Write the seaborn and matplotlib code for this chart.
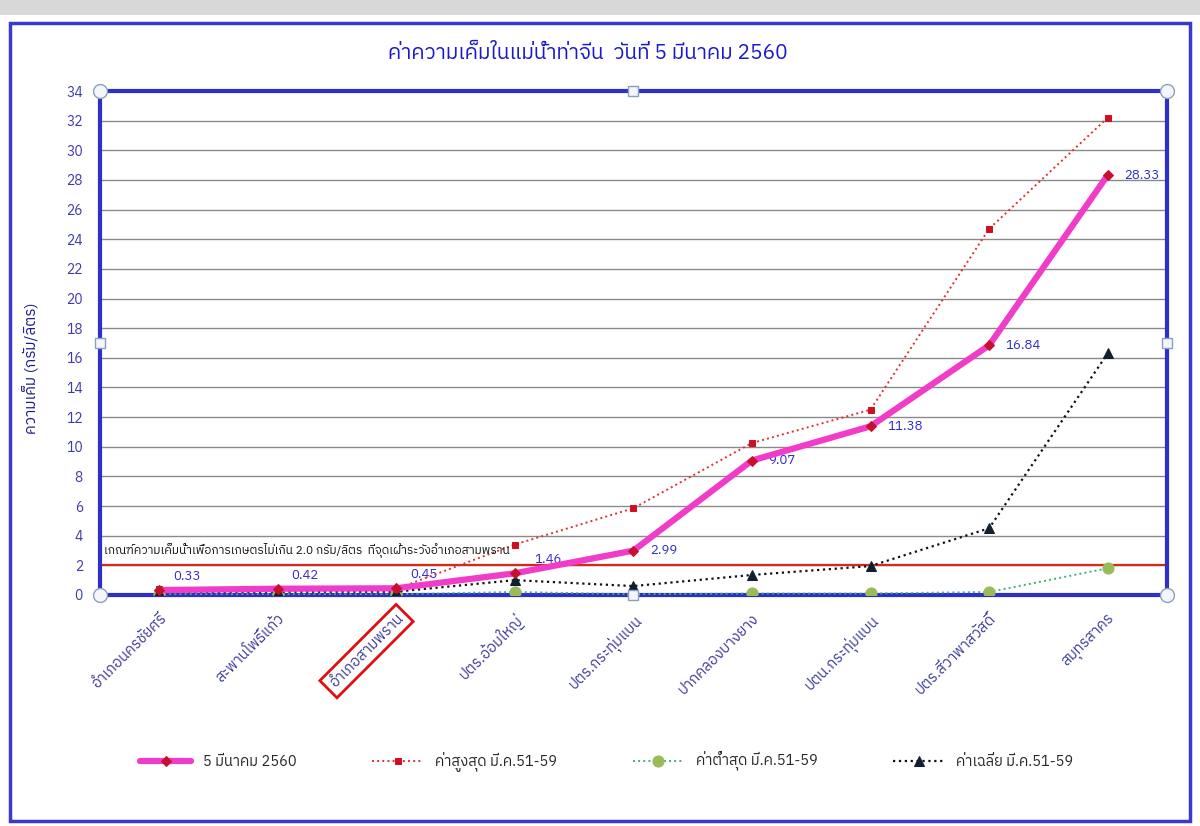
import matplotlib
matplotlib.use("Agg")
import matplotlib.pyplot as plt
import pandas as pd
import seaborn as sns
from matplotlib import font_manager
from matplotlib.ft2font import FT2Font
from matplotlib.patches import Rectangle

stations = ["อำเภอนครชัยศรี", "สะพานโพธิ์แก้ว", "อำเภอสามพราน", "ปตร.อ้อมใหญ่",
            "ปตร.กระทุ่มแบน", "ปากคลองบางยาง", "ปตน.กระทุ่มแบน",
            "ปตร.สี่วาพาสวัสดิ์", "สมุทรสาคร"]
today = [0.33, 0.42, 0.45, 1.46, 2.99, 9.07, 11.38, 16.84, 28.33]
max_5159 = [0.40, 0.40, 0.40, 3.40, 5.85, 10.25, 12.50, 24.70, 32.20]
min_5159 = [0.05, 0.05, 0.05, 0.20, 0.05, 0.10, 0.10, 0.20, 1.80]
avg_5159 = [0.20, 0.22, 0.22, 1.00, 0.60, 1.35, 1.95, 4.50, 16.30]
limit = 2.0

series_names = ["5 มีนาคม 2560", "ค่าสูงสุด มี.ค.51-59", "ค่าต่ำสุด มี.ค.51-59", "ค่าเฉลี่ย มี.ค.51-59"]
title = "ค่าความเค็มในแม่น้ำท่าจีน  วันที่ 5 มีนาคม 2560"
ylabel = "ความเค็ม (กรัม/ลิตร)"
limit_text = "เกณฑ์ความเค็มน้ำเพื่อการเกษตรไม่เกิน 2.0 กรัม/ลิตร  ที่จุดเฝ้าระวังอำเภอสามพราน"


def find_thai_font():
    # pick the first installed font that has Thai glyphs
    best = None
    for f in font_manager.fontManager.ttflist:
        try:
            cmap = FT2Font(f.fname).get_charmap()
        except Exception:
            continue
        if ord("ก") in cmap and ord("ม") in cmap:
            if "Thai" in f.name or "Tahoma" in f.name:
                return f.name
            if best is None:
                best = f.name
    return best


sns.set_theme(style="white")
thai = find_thai_font()
plt.rcParams["font.family"] = ([thai] if thai else []) + ["DejaVu Sans"]

fig = plt.figure(figsize=(12, 8.26), dpi=100)
fig.patch.set_facecolor("white")
# window frame
fig.add_artist(Rectangle((0, 0.982), 1, 0.018, transform=fig.transFigure,
                         facecolor="#d8d8d8", edgecolor="none"))
fig.add_artist(Rectangle((0.008, 0.006), 0.984, 0.966, transform=fig.transFigure,
                         facecolor="none", edgecolor="#3a3ad0", lw=2.5))

ax = fig.add_axes([0.083, 0.2797, 0.8895, 0.6101])

df = pd.DataFrame({"station": stations * 4,
                   "value": today + max_5159 + min_5159 + avg_5159,
                   "series": [s for s in series_names for _ in stations]})

ax.axhline(limit, color="#d42a1a", lw=1.6, zorder=2)

styles = {
    series_names[0]: dict(color="#f03cc8", lw=4.5, ls="-", marker="D", ms=5,
                          mfc="#c8102e", mec="#c8102e", zorder=6),
    series_names[1]: dict(color="#e03030", lw=1.4, ls=":", marker="s", ms=5,
                          mfc="#d01020", mec="#d01020", zorder=5),
    series_names[2]: dict(color="#40b070", lw=1.4, ls=":", marker="o", ms=8,
                          mfc="#9bbb59", mec="#9bbb59", zorder=4),
    series_names[3]: dict(color="#111111", lw=1.6, ls=":", marker="^", ms=7,
                          mfc="#102030", mec="#102030", zorder=4),
}
for name in series_names:
    sub = df[df["series"] == name]
    sns.lineplot(data=sub, x="station", y="value", sort=False, ax=ax,
                 label=name, **styles[name])

for i, v in enumerate(today):
    if i < 4:
        off, va = (14 if i == 3 else 10, 5), "bottom"
    else:
        off, va = (12, 0), "center"
    ax.annotate(f"{v:.2f}", (i, v), xytext=off, textcoords="offset points",
                va=va, ha="left", color="#2a2acc", fontsize=9.5)

ax.text(0.004, limit + 0.55, limit_text, fontsize=8.6, color="#111111",
        transform=ax.get_yaxis_transform(), va="bottom", ha="left", zorder=7)

# chart selection handles
for hx, hy, mk in [(0, 0, "o"), (0.5, 0, "s"), (1, 0, "o"), (0, 0.5, "s"),
                   (1, 0.5, "s"), (0, 1, "o"), (0.5, 1, "s"), (1, 1, "o")]:
    ax.plot(hx, hy, marker=mk, ms=10 if mk == "o" else 7, mfc="#f4f6fb",
            mec="#8aa0c0", mew=1, transform=ax.transAxes, clip_on=False, zorder=10)

ax.set_xlim(-0.5, len(stations) - 0.5)
ax.set_ylim(0, 34)
ax.set_yticks(range(0, 35, 2))
ax.yaxis.grid(True, color="#8a8a8a", lw=1)
ax.xaxis.grid(False)
ax.set_xlabel("")
ax.set_ylabel(ylabel, color="#1a1a8a", fontsize=11)
ax.yaxis.set_label_coords(-0.056, 0.45)
ax.tick_params(axis="y", colors="#3a3aa8", labelsize=10, length=0, pad=12)
ax.tick_params(axis="x", colors="#3a3a9a", labelsize=10.5, length=0, pad=12)
for lab in ax.get_xticklabels():
    lab.set_rotation(45)
    lab.set_ha("right")
    lab.set_rotation_mode("anchor")
ax.get_xticklabels()[2].set_bbox(dict(facecolor="none", edgecolor="#e01010",
                                      lw=2, boxstyle="square,pad=0.35"))
for sp in ax.spines.values():
    sp.set_visible(True)
    sp.set_color("#2e2ec8")
    sp.set_linewidth(3)

fig.text(0.49, 0.935, title, color="#1a1acc", fontsize=15, ha="center", va="center")

leg = ax.legend(loc="upper center", bbox_to_anchor=(0.475, -0.285), ncol=4,
                frameon=False, fontsize=10.5, handlelength=3.5, columnspacing=5.2)

fig.savefig("out.png", dpi=100)
